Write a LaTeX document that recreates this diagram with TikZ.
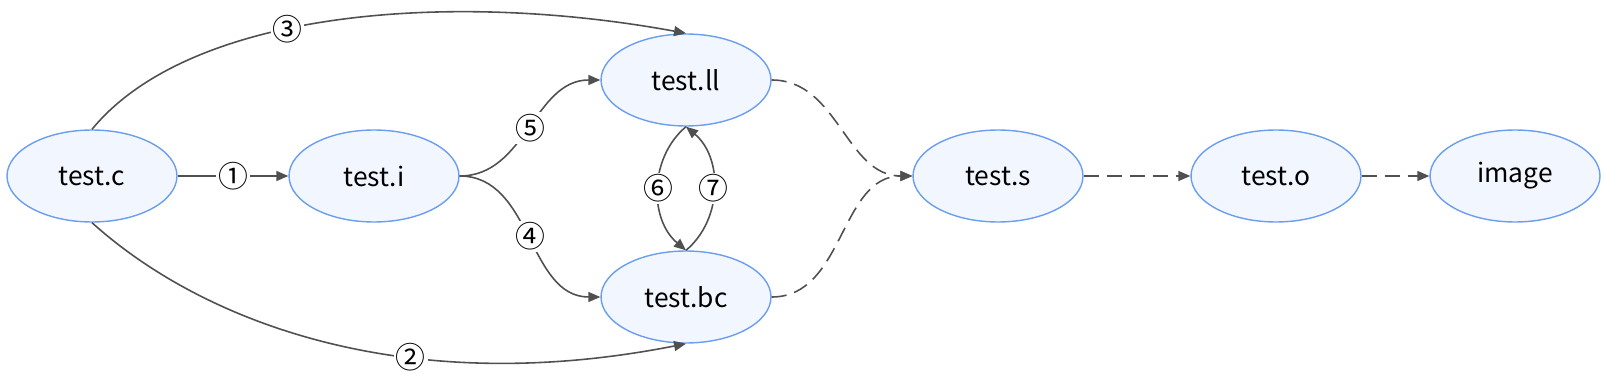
\documentclass[tikz,border=0pt]{standalone}
\usepackage{fontspec}
\setmainfont{Noto Sans CJK SC}
\usetikzlibrary{arrows.meta,shapes.geometric}
\definecolor{nodefill}{HTML}{F2F6FE}
\definecolor{nodeline}{HTML}{6C9EF0}
\definecolor{edgeline}{HTML}{505050}

\begin{document}
\begin{tikzpicture}[x=0.02cm,y=-0.02cm,>={Triangle[length=0.24cm,width=0.2cm]},font=\fontsize{15}{18}\selectfont,
  file/.style={draw=nodeline,fill=nodefill,ellipse,line width=0.8pt,minimum width=3.4cm,minimum height=1.84cm,inner sep=0pt},
  num/.style={fill=white,inner sep=1pt,font=\fontsize{17}{18}\selectfont},
  edge/.style={draw=edgeline,line width=0.9pt},
  later/.style={edge,dash pattern=on 0.3cm off 0.16cm}]
\useasboundingbox (0,0) rectangle (1605,375);
\node[file] (fC) at (92,176) {test.c};
\node[file] (fI) at (374,176) {test.i};
\node[file] (fLL) at (686,80) {test.ll};
\node[file] (fBC) at (686,297) {test.bc};
\node[file] (fS) at (998,176) {test.s};
\node[file] (fO) at (1276,176) {test.o};
\node[file] (fImg) at (1515,176) {image};
% front end
\draw[->,edge] (fC) -- node[num] {①} (fI);
\draw[->,edge] (fC.south) .. controls (200,320) and (400,400) .. node[num,pos=0.64] {②} (fBC.south);
\draw[->,edge] (fC.north) .. controls (190,10) and (450,-10) .. node[num,pos=0.42] {③} (fLL.north);
\draw[->,edge] (fI.east) to[out=0,in=180] node[num] {④} (fBC.west);
\draw[->,edge] (fI.east) to[out=0,in=180] node[num] {⑤} (fLL.west);
\draw[->,edge] (fLL.south) to[bend right=50] node[num] {⑥} (fBC.north);
\draw[->,edge] (fBC.north) to[bend right=50] node[num] {⑦} (fLL.south);
% back end
\draw[->,later] (fLL.east) to[out=0,in=180] (fS.west);
\draw[->,later] (fBC.east) to[out=0,in=180] (fS.west);
\draw[->,later] (fS) -- (fO);
\draw[->,later] (fO) -- (fImg);
\end{tikzpicture}
\end{document}
